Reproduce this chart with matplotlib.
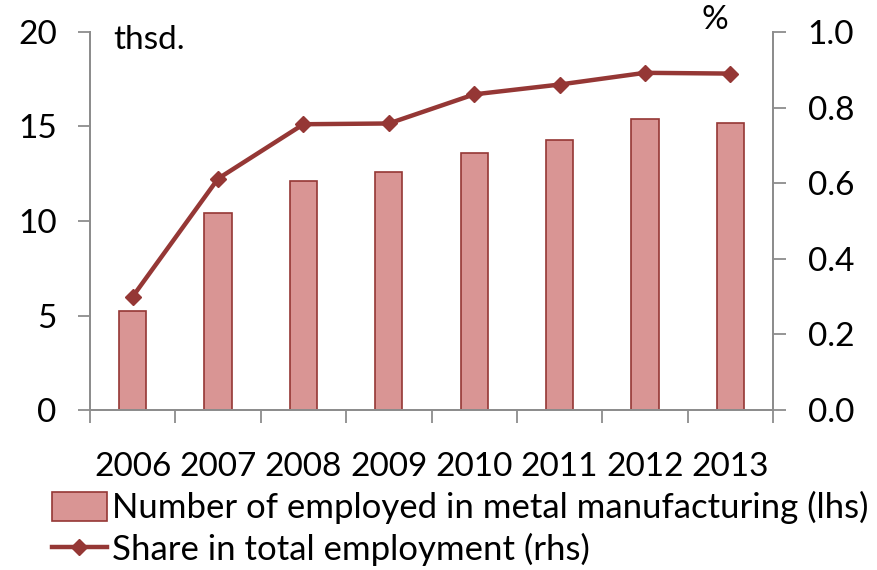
import matplotlib
matplotlib.use("Agg")
from matplotlib import pyplot as plt
from matplotlib.lines import Line2D
from matplotlib.patches import Patch
import numpy as np

years = ["2006", "2007", "2008", "2009", "2010", "2011", "2012", "2013"]
employed = [5.25, 10.4, 12.1, 12.6, 13.6, 14.3, 15.4, 15.2]
share = [0.30, 0.612, 0.756, 0.758, 0.835, 0.861, 0.892, 0.890]

plt.rcParams['font.family'] = ['Lato', 'DejaVu Sans']

bar_fill = "#d99594"
dark_red = "#953735"
grey = "#8c8c8c"

fig = plt.figure(figsize=(8.77, 5.70), dpi=100)
ax = fig.add_axes([90 / 877, 160 / 570, 683 / 877, 378 / 570])
ax2 = ax.twinx()

x = np.arange(len(years))
ax.bar(x, employed, width=0.32, color=bar_fill, edgecolor=dark_red, linewidth=1.2, zorder=2)
ax2.plot(x, share, color=dark_red, linewidth=3.2, marker="D", markersize=8, zorder=3)

ax.set_xlim(-0.5, len(years) - 0.5)
ax.set_ylim(0, 20)
ax.set_yticks([0, 5, 10, 15, 20])
ax2.set_ylim(0, 1.0)
ax2.set_yticks([0.0, 0.2, 0.4, 0.6, 0.8, 1.0])
ax2.set_yticklabels(["%.1f" % v for v in ax2.get_yticks()])

fs = 24
ax.set_xticks(x)
ax.set_xticklabels(years)
ax.set_xticks(np.arange(-0.5, len(years)), minor=True)
ax.tick_params(axis="x", which="major", length=0, pad=30, labelsize=fs)
ax.tick_params(axis="x", which="minor", length=9, width=1.3, color=grey, direction="out")
ax.tick_params(axis="y", length=9, width=1.3, color=grey, labelsize=fs, pad=15)
ax2.tick_params(axis="y", length=9, width=1.3, color=grey, labelsize=fs, pad=16)

for a in (ax, ax2):
    a.spines["top"].set_visible(False)
    for s in ("left", "right", "bottom"):
        a.spines[s].set_color(grey)
        a.spines[s].set_linewidth(1.3)

fig.text(113 / 877, 1 - 40 / 570, "thsd.", fontsize=fs, va="center", ha="left")
fig.text(715 / 877, 1 - 20 / 570, "%", fontsize=fs, va="center", ha="center")

handles = [
    Patch(facecolor=bar_fill, edgecolor=dark_red, linewidth=1.2),
    Line2D([0], [0], color=dark_red, linewidth=3.2, marker="D", markersize=8),
]
labels = ["Number of employed in metal manufacturing (lhs)", "Share in total employment (rhs)"]
fig.legend(handles, labels, loc="lower left", bbox_to_anchor=(52 / 877, 4 / 570), frameon=False,
           fontsize=25, handlelength=1.58, handleheight=0.9, handletextpad=0.14, labelspacing=0.25,
           borderpad=0, borderaxespad=0)

fig.savefig("out.png", dpi=100)
